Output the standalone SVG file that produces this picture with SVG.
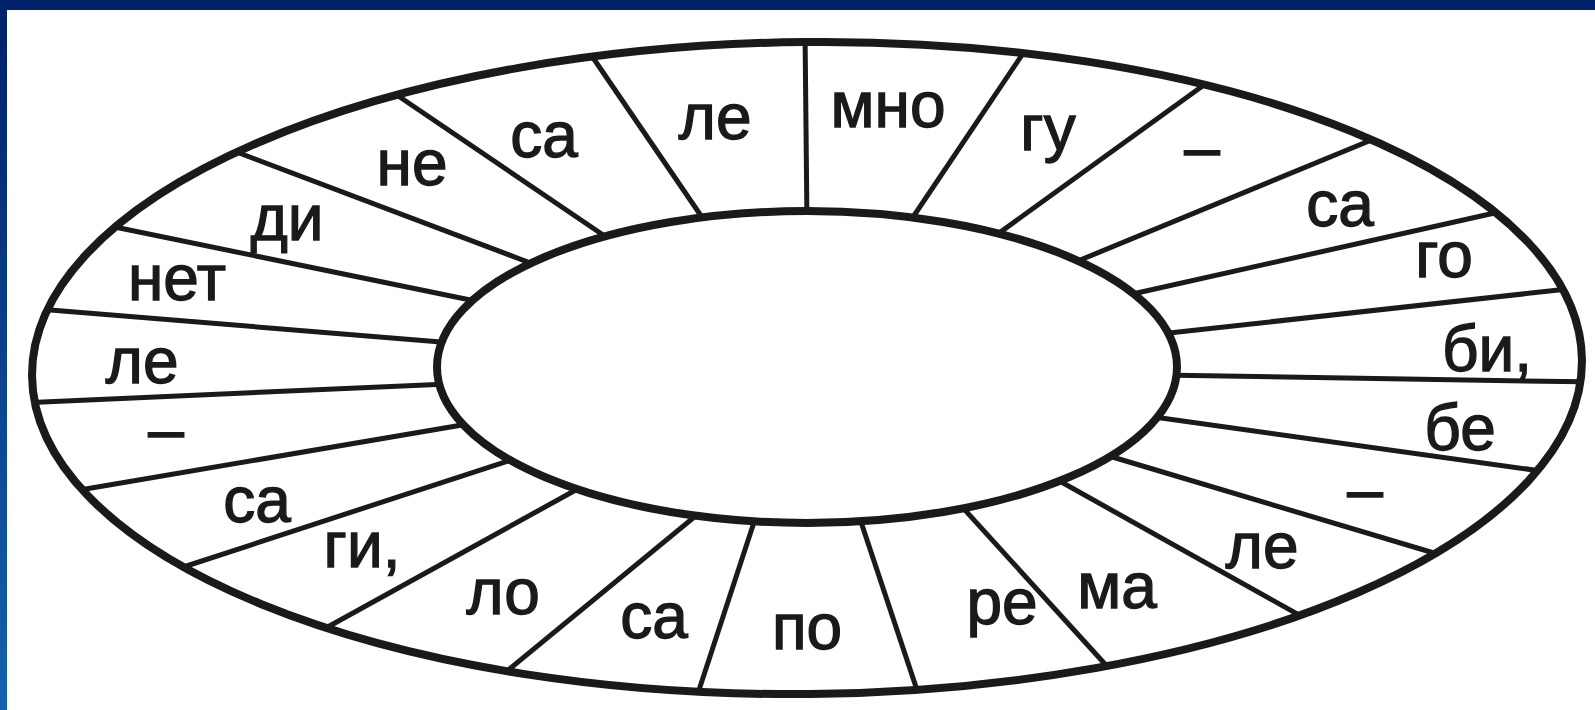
<svg xmlns="http://www.w3.org/2000/svg" width="1595" height="710" viewBox="0 0 1595 710">
<defs>
<linearGradient id="lb" x1="0" y1="0" x2="0" y2="1">
<stop offset="0" stop-color="#00206a"/>
<stop offset="1" stop-color="#1462ae"/>
</linearGradient>
<clipPath id="oc"><ellipse cx="807" cy="368" rx="775" ry="326" transform="rotate(-0.6 807 368)"/></clipPath>
<style>
.sp{stroke:#1a1a1a;stroke-width:5;stroke-linecap:butt;fill:none}
.el{stroke:#1a1a1a;stroke-width:8;fill:none}
.t{font-family:"Liberation Sans",Arial,sans-serif;font-size:64px;fill:#1a1a1a;stroke:#1a1a1a;stroke-width:1.3;text-anchor:middle}
</style>
</defs>
<rect x="0" y="0" width="1595" height="710" fill="#ffffff"/>
<rect x="0" y="0" width="1595" height="10" fill="#00226a"/>
<rect x="0" y="0" width="7" height="710" fill="url(#lb)"/>
<g id="connectors" clip-path="url(#oc)">
<line class="sp" x1="805" y1="30" x2="807" y2="225"/>
<line class="sp" x1="1028" y1="46" x2="907" y2="226"/>
<line class="sp" x1="1215" y1="77" x2="988" y2="241"/>
<line class="sp" x1="1386" y1="134" x2="1073" y2="263"/>
<line class="sp" x1="1508" y1="210" x2="1128" y2="295"/>
<line class="sp" x1="1577" y1="288" x2="1160" y2="334"/>
<line class="sp" x1="1592" y1="382" x2="1160" y2="375"/>
<line class="sp" x1="1548" y1="472" x2="1147" y2="416"/>
<line class="sp" x1="1444" y1="556" x2="1099" y2="453"/>
<line class="sp" x1="1308" y1="620" x2="1047" y2="474"/>
<line class="sp" x1="1114" y1="674" x2="954" y2="498"/>
<line class="sp" x1="917" y1="690" x2="857" y2="510"/>
<line class="sp" x1="699" y1="690" x2="758" y2="510"/>
<line class="sp" x1="507" y1="671" x2="704" y2="509"/>
<line class="sp" x1="315" y1="634" x2="583" y2="486"/>
<line class="sp" x1="168" y1="572" x2="517" y2="458"/>
<line class="sp" x1="68" y1="492" x2="468" y2="424"/>
<line class="sp" x1="20" y1="403" x2="448" y2="384"/>
<line class="sp" x1="38" y1="309" x2="453" y2="343"/>
<line class="sp" x1="105" y1="225" x2="485" y2="303"/>
<line class="sp" x1="226" y1="148" x2="541" y2="267"/>
<line class="sp" x1="385" y1="87" x2="612" y2="241"/>
<line class="sp" x1="585" y1="46" x2="708" y2="226"/>
</g>
<g id="outer-ring"><ellipse class="el" cx="807" cy="368" rx="775" ry="326" transform="rotate(-0.6 807 368)"/></g>
<g id="inner-ellipse"><ellipse class="el" cx="807" cy="367" rx="370" ry="156" style="fill:#ffffff"/></g>
<g id="labels">
<g id="n1"><text class="t" x="888" y="127">мно</text></g>
<g id="n2"><text class="t" x="1048" y="150">гу</text></g>
<g id="n3"><text class="t" x="1202" y="169">–</text></g>
<g id="n4"><text class="t" x="1340" y="226">са</text></g>
<g id="n5"><text class="t" x="1444" y="277">го</text></g>
<g id="n6"><text class="t" x="1487" y="371">би,</text></g>
<g id="n7"><text class="t" x="1460" y="450">бе</text></g>
<g id="n8"><text class="t" x="1365" y="511">–</text></g>
<g id="n9"><text class="t" x="1262" y="568">ле</text></g>
<g id="n10"><text class="t" x="1117" y="608">ма</text></g>
<g id="n11"><text class="t" x="1002" y="624">ре</text></g>
<g id="n12"><text class="t" x="807" y="649">по</text></g>
<g id="n13"><text class="t" x="654" y="638">са</text></g>
<g id="n14"><text class="t" x="503" y="614">ло</text></g>
<g id="n15"><text class="t" x="362" y="567">ги,</text></g>
<g id="n16"><text class="t" x="257" y="522">са</text></g>
<g id="n17"><text class="t" x="166" y="451">–</text></g>
<g id="n18"><text class="t" x="142" y="383">ле</text></g>
<g id="n19"><text class="t" x="177" y="300">нет</text></g>
<g id="n20"><text class="t" x="287" y="240">ди</text></g>
<g id="n21"><text class="t" x="412" y="185">не</text></g>
<g id="n22"><text class="t" x="544" y="157">са</text></g>
<g id="n23"><text class="t" x="715" y="139">ле</text></g>
</g>
</svg>
